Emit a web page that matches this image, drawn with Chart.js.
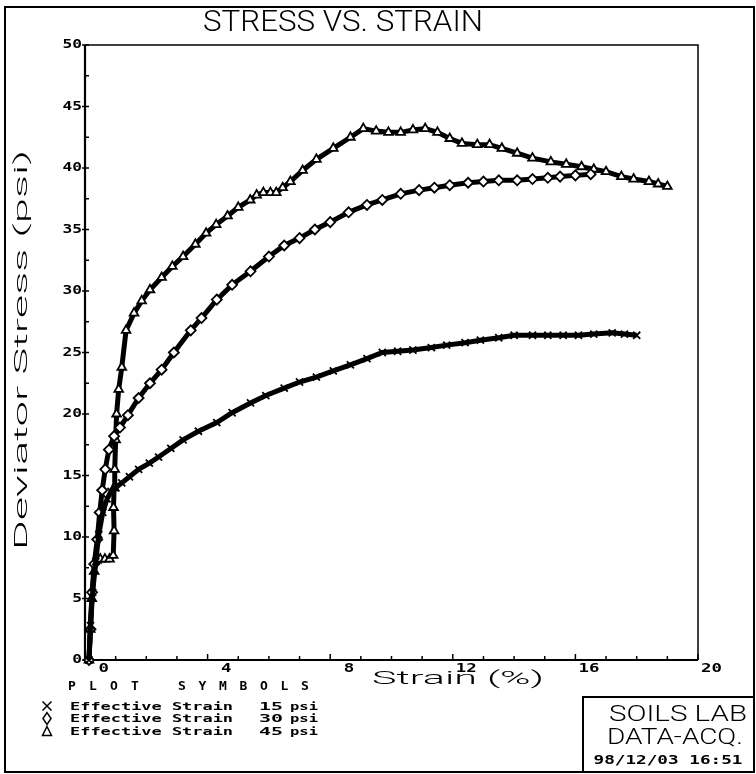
<!DOCTYPE html>
<html>
<head>
<meta charset="utf-8">
<script src="https://cdn.jsdelivr.net/npm/chart.js@4/dist/chart.umd.min.js"></script>
<style>
  html, body { margin: 0; padding: 0; background: #fff; }
  #wrap { width: 756px; height: 774px; position: relative; }
  canvas { display: block; }
</style>
</head>
<body>
<div id="wrap"><canvas id="c" width="756" height="774"></canvas></div>
<script>
// Triaxial test results: deviator stress (psi) against axial strain (%)
const strain15 = [0.13,0.18,0.25,0.35,0.45,0.58,0.72,0.85,1.0,1.2,1.45,1.75,2.1,2.4,2.8,3.2,3.7,4.3,4.8,5.4,5.9,6.5,7.0,7.55,8.1,8.66,9.2,9.7,10.2,10.7,11.3,11.8,12.4,12.9,13.5,14.0,14.6,15.1,15.6,16.1,16.6,17.2,17.6,18.0];
const stress15 = [0,2.8,5.5,8,10.2,12,13.1,13.7,14.0,14.4,14.9,15.5,16.0,16.5,17.2,17.9,18.6,19.3,20.1,20.9,21.5,22.1,22.6,23.0,23.5,24.0,24.5,25.0,25.1,25.2,25.4,25.6,25.8,26.0,26.2,26.4,26.4,26.4,26.4,26.4,26.5,26.6,26.5,26.4];

const strain30 = [0.13,0.18,0.23,0.3,0.4,0.48,0.56,0.66,0.78,0.95,1.14,1.4,1.75,2.12,2.5,2.9,3.45,3.8,4.3,4.8,5.4,6.0,6.5,7.0,7.5,8.0,8.6,9.2,9.7,10.3,10.9,11.4,11.9,12.5,13.0,13.5,14.1,14.6,15.1,15.5,16.0,16.5];
const stress30 = [0,2.5,5.5,7.8,9.8,12,13.8,15.5,17.1,18.2,18.9,19.9,21.3,22.5,23.6,25.0,26.8,27.8,29.3,30.5,31.6,32.8,33.7,34.3,35.0,35.6,36.4,37.0,37.4,37.9,38.2,38.4,38.6,38.8,38.9,39.0,39.0,39.1,39.2,39.3,39.4,39.5];

const strain45 = [0.13,0.17,0.22,0.3,0.38,0.5,0.65,0.8,0.92,0.95,0.93,0.95,0.97,1.0,1.03,1.1,1.2,1.34,1.6,1.85,2.12,2.5,2.85,3.2,3.6,3.95,4.28,4.65,5.0,5.39,5.6,5.82,6.05,6.24,6.45,6.7,7.1,7.55,8.1,8.66,9.08,9.5,9.9,10.3,10.7,11.1,11.5,11.9,12.3,12.8,13.2,13.6,14.1,14.6,15.2,15.7,16.2,16.6,17.0,17.5,17.9,18.4,18.7,19.0];
const stress45 = [0,2.5,5,7.2,8.1,8.2,8.2,8.2,8.5,10.5,12.4,14,15.5,17.9,20,22,23.8,26.8,28.2,29.2,30.1,31.1,32.0,32.8,33.8,34.7,35.4,36.1,36.8,37.4,37.8,38.0,38.0,38.0,38.4,38.9,39.8,40.7,41.6,42.5,43.2,43.0,42.9,42.9,43.1,43.2,42.9,42.4,42.0,41.9,41.9,41.6,41.2,40.8,40.5,40.3,40.1,39.9,39.7,39.3,39.1,38.9,38.7,38.5];

const seriesLabels = ['Effective Strain  15 psi', 'Effective Strain  30 psi', 'Effective Strain  45 psi'];
const seriesSymbols = ['crossRot', 'rectRot', 'triangle'];

const xTickLabels = [0, 4, 8, 12, 16, 20];
const xMinorStep = 1;
const yTickLabels = [0, 5, 10, 15, 20, 25, 30, 35, 40, 45, 50];
const yMinorStep = 2.5;

const pairs = (xs, ys) => xs.map((x, i) => ({ x: x, y: ys[i] }));

// draw text stretched horizontally to a given width
function fitText(ctx, text, x, y, width, font, align) {
  ctx.save();
  ctx.font = font;
  ctx.textBaseline = 'middle';
  ctx.textAlign = 'left';
  const w = ctx.measureText(text).width;
  const s = width / w;
  let x0 = x;
  if (align === 'center') x0 = x - width / 2;
  else if (align === 'right') x0 = x - width;
  ctx.translate(x0, y);
  ctx.scale(s, 1);
  ctx.fillText(text, 0, 0);
  ctx.restore();
}

// draw text with a horizontal stretch factor
function wideText(ctx, text, x, y, font, align, sx) {
  ctx.save();
  ctx.font = font;
  ctx.textBaseline = 'middle';
  ctx.textAlign = 'left';
  const w = ctx.measureText(text).width * sx;
  let x0 = x;
  if (align === 'center') x0 = x - w / 2;
  else if (align === 'right') x0 = x - w;
  ctx.translate(x0, y);
  ctx.scale(sx, 1);
  ctx.fillText(text, 0, 0);
  ctx.restore();
}

const tickFont = 'bold 12px "DejaVu Sans Mono"';
const labelFont = '300 19px Roboto, "Open Sans", "DejaVu Sans"';
const headFont = '300 30px Roboto, "Open Sans", "DejaVu Sans"';
const smallFont = 'bold 11px "DejaVu Sans Mono"';

const framePlugin = {
  id: 'plotterFrame',
  beforeDatasetsDraw(chart) {
    const ctx = chart.ctx;
    const xs = chart.scales.x, ys = chart.scales.y;
    const L = xs.getPixelForValue(xs.min), R = xs.getPixelForValue(xs.max);
    const T = ys.getPixelForValue(ys.max), B = ys.getPixelForValue(ys.min);
    ctx.save();
    ctx.strokeStyle = '#000';
    ctx.fillStyle = '#000';
    // top and right edges of the plot box
    ctx.lineWidth = 1.5;
    ctx.beginPath();
    ctx.moveTo(L, T); ctx.lineTo(R, T); ctx.lineTo(R, B);
    ctx.stroke();
    // axes
    ctx.lineWidth = 2.2;
    ctx.beginPath();
    ctx.moveTo(L, T); ctx.lineTo(L, B); ctx.lineTo(R, B);
    ctx.stroke();

    // x ticks, pointing inwards
    ctx.lineWidth = 1.5;
    for (let v = xs.min; v <= xs.max + 1e-9; v += xMinorStep) {
      const px = xs.getPixelForValue(v);
      const major = xTickLabels.includes(Math.round(v));
      ctx.beginPath();
      ctx.moveTo(px, B);
      ctx.lineTo(px, B - (major ? 6 : 4));
      ctx.stroke();
    }
    // y ticks
    for (let v = ys.min; v <= ys.max + 1e-9; v += yMinorStep) {
      const py = ys.getPixelForValue(v);
      const major = yTickLabels.includes(v);
      ctx.beginPath();
      ctx.moveTo(major ? L - 3 : L, py);
      ctx.lineTo(L + 4, py);
      ctx.stroke();
    }
    // tick labels
    xTickLabels.forEach(v => {
      const px = xs.getPixelForValue(v);
      wideText(ctx, String(v), px + 24, B + 9, tickFont, 'right', 1.45);
    });
    yTickLabels.forEach(v => {
      const py = ys.getPixelForValue(v);
      wideText(ctx, String(v), L - 3, py, tickFont, 'right', 1.35);
    });
    ctx.restore();
  },
  afterDraw(chart) {
    const ctx = chart.ctx;
    ctx.save();
    ctx.fillStyle = '#000';
    ctx.strokeStyle = '#000';

    // outer frame
    ctx.lineWidth = 2;
    ctx.strokeRect(5, 7, 749, 765);

    // title
    fitText(ctx, 'STRESS VS. STRAIN', 343, 23, 280, headFont, 'center');

    // axis titles
    fitText(ctx, 'Strain (%)', 458, 679, 172, labelFont, 'center');
    ctx.save();
    ctx.translate(22, 350);
    ctx.rotate(-Math.PI / 2);
    fitText(ctx, 'Deviator Stress (psi)', 0, 0, 400, labelFont, 'center');
    ctx.restore();

    // plot symbol key
    const head1 = 'PLOT', head2 = 'SYMBOLS';
    ctx.font = 'bold 13px "DejaVu Sans Mono"';
    ctx.textAlign = 'center';
    ctx.textBaseline = 'middle';
    for (let i = 0; i < head1.length; i++) ctx.fillText(head1[i], 72 + i * 21, 687);
    for (let i = 0; i < head2.length; i++) ctx.fillText(head2[i], 182 + i * 20.5, 687);

    const rows = [707, 719.5, 732];
    seriesLabels.forEach((lab, i) => {
      const parts = lab.split(/\s{2,}/);
      fitText(ctx, parts[0], 70, rows[i], 163, smallFont, 'left');
      const num = parts[1].split(' ');
      fitText(ctx, num[0], 283, rows[i], 24, smallFont, 'right');
      fitText(ctx, num[1], 290, rows[i], 28, smallFont, 'left');
      drawSymbol(ctx, seriesSymbols[i], 47, rows[i] - 1, 4.5);
    });

    // lab stamp box
    ctx.lineWidth = 2;
    ctx.strokeRect(583, 697, 171, 75);
    fitText(ctx, 'SOILS LAB', 678, 715, 138, '300 22px Roboto, "DejaVu Sans"', 'center');
    fitText(ctx, 'DATA-ACQ.', 675, 738, 136, '300 22px Roboto, "DejaVu Sans"', 'center');
    fitText(ctx, '98/12/03 16:51', 668, 761, 149, 'bold 13px "DejaVu Sans Mono"', 'center');
    ctx.restore();
  }
};

function drawSymbol(ctx, style, x, y, r) {
  ctx.save();
  ctx.lineWidth = 1.5;
  ctx.strokeStyle = '#000';
  ctx.beginPath();
  if (style === 'crossRot') {
    ctx.moveTo(x - r, y - r); ctx.lineTo(x + r, y + r);
    ctx.moveTo(x + r, y - r); ctx.lineTo(x - r, y + r);
  } else if (style === 'rectRot') {
    ctx.moveTo(x, y - r * 1.3); ctx.lineTo(x + r * 0.9, y);
    ctx.lineTo(x, y + r * 1.3); ctx.lineTo(x - r * 0.9, y); ctx.closePath();
  } else {
    ctx.moveTo(x, y - r); ctx.lineTo(x + r, y + r);
    ctx.lineTo(x - r, y + r); ctx.closePath();
  }
  ctx.stroke();
  ctx.restore();
}

function series(label, xs, ys, symbol) {
  return {
    label: label,
    data: pairs(xs, ys),
    showLine: true,
    borderColor: '#000',
    borderWidth: 5,
    pointStyle: symbol,
    pointRadius: symbol === 'crossRot' ? 5 : 5,
    pointBorderWidth: 1.8,
    pointBorderColor: '#000',
    pointBackgroundColor: '#fff',
    tension: 0
  };
}

new Chart(document.getElementById('c'), {
  type: 'scatter',
  data: {
    datasets: [
      series(seriesLabels[0], strain15, stress15, seriesSymbols[0]),
      series(seriesLabels[1], strain30, stress30, seriesSymbols[1]),
      series(seriesLabels[2], strain45, stress45, seriesSymbols[2])
    ]
  },
  options: {
    responsive: false,
    devicePixelRatio: 1,
    animation: false,
    layout: { padding: { left: 85, top: 45, right: 58, bottom: 114 } },
    scales: {
      x: { type: 'linear', min: 0, max: 20, display: false },
      y: { type: 'linear', min: 0, max: 50, display: false }
    },
    plugins: {
      legend: { display: false },
      tooltip: { enabled: false },
      title: { display: false }
    },
    clip: false
  },
  plugins: [framePlugin]
});
</script>
</body>
</html>
